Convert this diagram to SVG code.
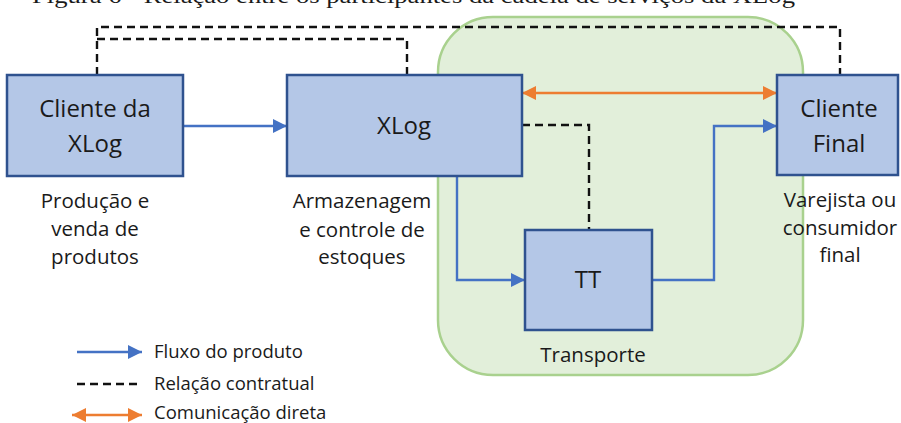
<svg xmlns="http://www.w3.org/2000/svg" width="901" height="423" viewBox="0 0 901 423">
  <defs>
    <style>
      .box { fill: #b4c7e7; stroke: #2f528f; stroke-width: 2.5; }
      .lbl { font-family: "Open Sans", "Noto Sans", sans-serif; font-size: 24px; fill: #1a1a1a; text-anchor: middle; }
      .cap { font-family: "Open Sans", "Noto Sans", sans-serif; font-size: 20.5px; fill: #1a1a1a; text-anchor: middle; }
      .leg { font-family: "Open Sans", "Noto Sans", sans-serif; font-size: 18.5px; fill: #1a1a1a; }
      .flow { fill: none; stroke: #4472c4; stroke-width: 2.4; }
      .contract { fill: none; stroke: #111; stroke-width: 2.4; stroke-dasharray: 8 5; }
      .comm { fill: none; stroke: #ed7d31; stroke-width: 2.6; }
    </style>
    <marker id="arrBlue" viewBox="0 0 10 10" refX="10" refY="5" markerWidth="14" markerHeight="14" markerUnits="userSpaceOnUse" orient="auto">
      <path d="M0,0 L10,5 L0,10 z" fill="#4472c4"/>
    </marker>
    <marker id="arrOrange" viewBox="0 0 10 10" refX="10" refY="5" markerWidth="14" markerHeight="14" markerUnits="userSpaceOnUse" orient="auto-start-reverse">
      <path d="M0,0 L10,5 L0,10 z" fill="#ed7d31"/>
    </marker>
  </defs>

  <rect width="901" height="423" fill="#ffffff"/>

  <!-- caption above the figure, running off the top edge -->
  <text x="32" y="3" font-family="Liberation Serif, serif" font-size="21" fill="#1a1a1a" textLength="763" lengthAdjust="spacingAndGlyphs">Figura 6 - Relação entre os participantes da cadeia de serviços da XLog</text>

  <!-- transport zone -->
  <g id="zone-transporte">
    <rect x="438" y="17" width="365" height="358" rx="55" ry="55" fill="#e2efda" stroke="#a9d18e" stroke-width="2.5"/>
    <text class="cap" x="593" y="362" font-size="19">Transporte</text>
  </g>

  <!-- connectors -->
  <g id="connectors">
    <path class="contract" d="M97,75 V27 H840 V75"/>
    <path class="contract" d="M97,39 H407 V75"/>
    <path class="contract" d="M522,125 H589 V230"/>
    <path class="flow" d="M183,126 H287" marker-end="url(#arrBlue)"/>
    <path class="flow" d="M457,176 V280 H525" marker-end="url(#arrBlue)"/>
    <path class="flow" d="M652,280 H714 V126 H777" marker-end="url(#arrBlue)"/>
    <path class="comm" d="M522,93 H777" marker-start="url(#arrOrange)" marker-end="url(#arrOrange)"/>
  </g>

  <g id="cliente-xlog">
    <rect class="box" x="7" y="75" width="176" height="101"/>
    <text class="lbl" x="95" y="117">Cliente da</text>
    <text class="lbl" x="95" y="152">XLog</text>
    <text class="cap" x="95" y="208">Produção e</text>
    <text class="cap" x="95" y="236">venda de</text>
    <text class="cap" x="95" y="264">produtos</text>
  </g>

  <g id="xlog">
    <rect class="box" x="287" y="75" width="235" height="101"/>
    <text class="lbl" x="404" y="134">XLog</text>
    <text class="cap" x="362" y="208">Armazenagem</text>
    <text class="cap" x="362" y="237">e controle de</text>
    <text class="cap" x="362" y="264">estoques</text>
  </g>

  <g id="tt">
    <rect class="box" x="525" y="230" width="127" height="100"/>
    <text class="lbl" x="588" y="288">TT</text>
  </g>

  <g id="cliente-final">
    <rect class="box" x="777" y="75" width="121" height="100"/>
    <text class="lbl" x="839" y="117">Cliente</text>
    <text class="lbl" x="839" y="152">Final</text>
    <text class="cap" x="840" y="207">Varejista ou</text>
    <text class="cap" x="840" y="235">consumidor</text>
    <text class="cap" x="840" y="262">final</text>
  </g>

  <!-- legend -->
  <g id="legend">
    <path class="flow" d="M77,352 H142" marker-end="url(#arrBlue)"/>
    <text class="leg" x="154" y="358">Fluxo do produto</text>
    <path class="contract" d="M77,384 H142"/>
    <text class="leg" x="154" y="390">Relação contratual</text>
    <path class="comm" d="M72,415 H142" marker-start="url(#arrOrange)" marker-end="url(#arrOrange)"/>
    <text class="leg" x="154" y="419">Comunicação direta</text>
  </g>
</svg>
